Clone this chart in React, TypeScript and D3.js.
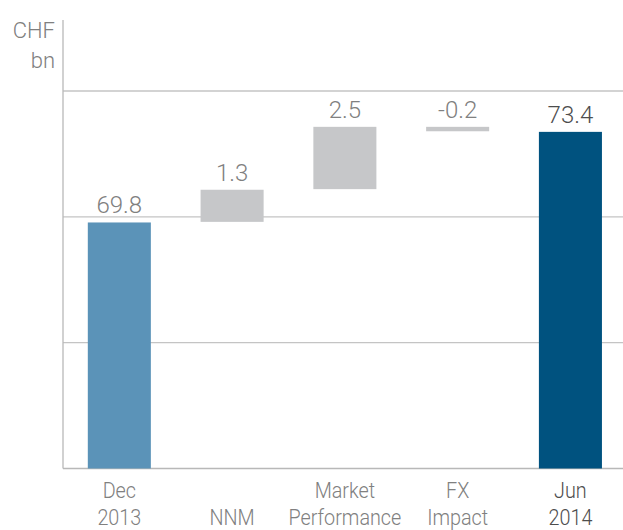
import React from "react";
import * as d3 from "d3";

const categories = ["Dec 2013", "NNM", "Market Performance", "FX Impact", "Jun 2014"];
const catLines = [["Dec", "2013"], ["", "NNM"], ["Market", "Performance"], ["FX", "Impact"], ["Jun", "2014"]];
const deltas = [69.8, 1.3, 2.5, -0.2, 73.4];
const kinds = ["total", "delta", "delta", "delta", "total"];
const valueLabels = ["69.8", "1.3", "2.5", "-0.2", "73.4"];
const gridValues = [60, 65, 70, 75];

export default function App() {
  const W = 623, H = 530;
  const left = 63, bottom = 468.5;
  const y = d3.scaleLinear().domain([60, 75]).range([bottom, 91]);
  const x = d3.scaleBand().domain(categories).range([left, left + 5 * 112.75]).paddingInner(0.441).paddingOuter(0.22);

  let run = 0;
  const bars = deltas.map((d, i) => {
    let lo: number, hi: number;
    if (kinds[i] === "total") {
      lo = 60; hi = d; run = d;
    } else {
      const start = run; run = run + d;
      lo = Math.min(start, run); hi = Math.max(start, run);
    }
    return { cat: categories[i], lo, hi, i };
  });
  const colors = ["#5b93b8", "#c6c7c9", "#c6c7c9", "#c6c7c9", "#00527f"];
  const labelColors = ["#808080", "#808080", "#808080", "#808080", "#4d4d4d"];
  const font = "Roboto, 'Liberation Sans', sans-serif";

  return (
    <svg width={W} height={H} style={{ position: "absolute", left: 0, top: 0, background: "#fff" }} fontFamily={font}>
      {gridValues.map((g) => (
        <line key={g} x1={left} x2={W} y1={y(g)} y2={y(g)} stroke={g === 60 ? "#b8b8b8" : "#c4c4c4"} strokeWidth={1.3} />
      ))}
      <line x1={left} x2={left} y1={20} y2={bottom} stroke="#b8b8b8" strokeWidth={1.3} />
      <text x={55} y={38} textAnchor="end" fontSize={22} fontWeight={300} fill="#808080">CHF</text>
      <text x={55} y={68} textAnchor="end" fontSize={22} fontWeight={300} fill="#808080">bn</text>
      {bars.map((b) => {
        const cx = (x(b.cat) as number) + x.bandwidth() / 2;
        return (
          <g key={b.cat}>
            <rect x={x(b.cat)} width={x.bandwidth()} y={y(b.hi) + 0.6} height={y(b.lo) - y(b.hi) - 0.6} fill={colors[b.i]} />
            <text x={cx} y={y(b.hi) - 8.5} textAnchor="middle" fontSize={24} fontWeight={300} fill={labelColors[b.i]}>
              {valueLabels[b.i]}
            </text>
            {catLines[b.i].map((t, k) => (
              <text key={k} transform={`translate(${cx},${498 + k * 27}) scale(0.9,1)`} textAnchor="middle" fontSize={22} fontWeight={300} fill={labelColors[b.i]}>
                {t}
              </text>
            ))}
          </g>
        );
      })}
    </svg>
  );
}
